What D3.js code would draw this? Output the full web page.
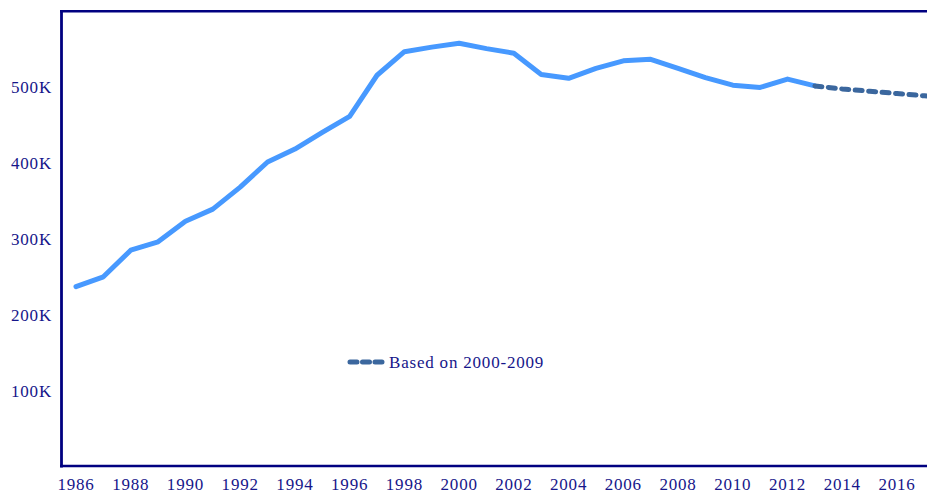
<!DOCTYPE html>
<html><head><meta charset="utf-8">
<script src="https://cdn.jsdelivr.net/npm/d3@7"></script>
<style>
html,body{margin:0;padding:0;background:#fff;overflow:hidden}
text{font-family:"Liberation Serif","DejaVu Serif",serif;fill:#16168a}
</style></head><body>
<svg id="c" width="927" height="493"></svg>
<script>
const years = [1986,1987,1988,1989,1990,1991,1992,1993,1994,1995,1996,1997,1998,1999,2000,2001,2002,2003,2004,2005,2006,2007,2008,2009,2010,2011,2012,2013];
const actual = [237,250,285,296,323,339,368,401,418,440,461,515,546,552,557,550,544,516,511,524,534,536,524,512,502,499,510,501];
const projYears = [2013,2014,2015,2016,2017,2018];
const projected = [501,497,494,491,488,485];
const xTicks = [1986,1988,1990,1992,1994,1996,1998,2000,2002,2004,2006,2008,2010,2012,2014,2016];
const yTicks = [100,200,300,400,500];
const legendLabel = "Based on 2000-2009";

const svg = d3.select("#c");
const x = d3.scaleLinear().domain([1986,2016]).range([76,897]);
const y = d3.scaleLinear().domain([0,600]).range([467,10.6]);
const navy = "#000080";

// y labels
svg.append("g").selectAll("text").data(yTicks).join("text")
  .attr("x",52).attr("y",d=>y(d)).attr("dy","0.35em")
  .attr("text-anchor","end").style("font-size","17px").style("letter-spacing","0.8px")
  .text(d=>d+"K");
// x labels
svg.append("g").selectAll("text").data(xTicks).join("text")
  .attr("x",d=>x(d)).attr("y",490)
  .attr("text-anchor","middle").style("font-size","17px").style("letter-spacing","0.8px")
  .text(d=>d);

const line = d3.line().x(d=>x(d[0])).y(d=>y(d[1]));
svg.append("path").datum(years.map((d,i)=>[d,actual[i]]))
  .attr("d",line).attr("fill","none").attr("stroke","#4799ff")
  .attr("stroke-width",5).attr("stroke-linejoin","round").attr("stroke-linecap","round");
svg.append("path").datum(projYears.map((d,i)=>[d,projected[i]]))
  .attr("d",line).attr("fill","none").attr("stroke","#3b679e")
  .attr("stroke-width",5).attr("stroke-dasharray","7,6.5").attr("stroke-linecap","round");

// frame
svg.append("line").attr("x1",61.5).attr("x2",61.5).attr("y1",10).attr("y2",467.5)
  .attr("stroke",navy).attr("stroke-width",2.8);
svg.append("line").attr("x1",60).attr("x2",927).attr("y1",11.3).attr("y2",11.3)
  .attr("stroke",navy).attr("stroke-width",2.6);
svg.append("line").attr("x1",60).attr("x2",927).attr("y1",466).attr("y2",466)
  .attr("stroke",navy).attr("stroke-width",2.6);

// legend
const lg = svg.append("g").attr("transform","translate(350,362)");
lg.append("line").attr("x1",0).attr("x2",32).attr("y1",0).attr("y2",0)
  .attr("stroke","#3b679e").attr("stroke-width",5).attr("stroke-dasharray","7,5.5").attr("stroke-linecap","round");
lg.append("text").attr("x",39).attr("y",0).attr("dy","0.35em")
  .style("font-size","17px").style("letter-spacing","0.8px").text(legendLabel);
</script></body></html>
